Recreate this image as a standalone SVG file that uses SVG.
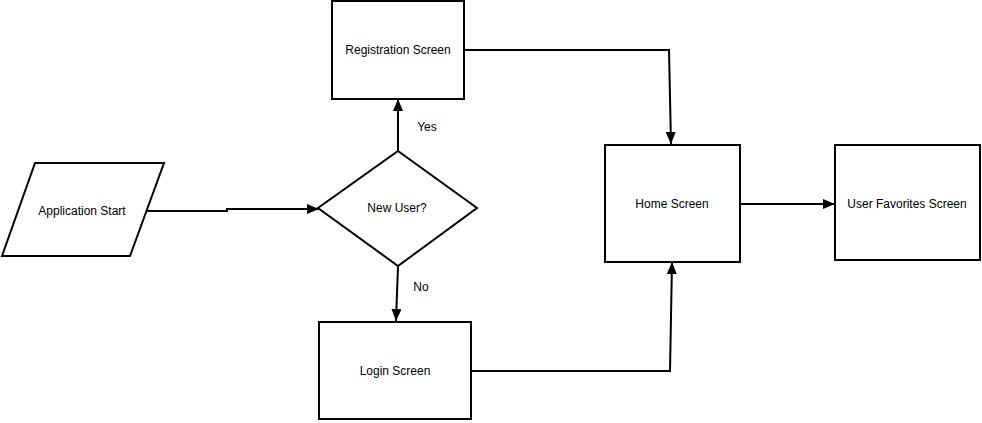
<svg xmlns="http://www.w3.org/2000/svg" width="982" height="423" viewBox="0 0 982 423">
<style>
.shape{fill:#fff;stroke:#000;stroke-width:2}
.edge{fill:none;stroke:#000;stroke-width:2}
text{font-family:"Liberation Sans",Arial,sans-serif;font-size:12px;fill:#000;text-anchor:middle;dominant-baseline:central}
</style>
<defs>
<marker id="arr" markerWidth="12" markerHeight="10" refX="12" refY="5" orient="auto" markerUnits="userSpaceOnUse">
<path d="M0,0 L12,5 L0,10 Z" fill="#000"/>
</marker>
</defs>
<rect width="982" height="423" fill="#fff"/>
<g id="connectors">
<polyline class="edge" points="147,211 227,211 227,209 319,209" marker-end="url(#arr)"/>
<line class="edge" x1="398" y1="151" x2="398" y2="99" marker-end="url(#arr)"/>
<line class="edge" x1="398" y1="266" x2="396" y2="321" marker-end="url(#arr)"/>
<polyline class="edge" points="464,50 669,50 671,144" marker-end="url(#arr)"/>
<polyline class="edge" points="472,371 670,371 672,262" marker-end="url(#arr)"/>
<line class="edge" x1="740" y1="204" x2="835" y2="204" marker-end="url(#arr)"/>
<text x="427" y="127">Yes</text>
<text x="421" y="287">No</text>
</g>
<g id="start">
<polygon class="shape" points="35,163 164,163 130,256 2,256"/>
<text x="82" y="211">Application Start</text>
</g>
<g id="decision">
<polygon class="shape" points="398,151 477,208 398,266 318,208"/>
<text x="397" y="208">New User?</text>
</g>
<g id="registration">
<rect class="shape" x="332" y="1" width="132" height="98"/>
<text x="398" y="50">Registration Screen</text>
</g>
<g id="login">
<rect class="shape" x="319" y="322" width="152" height="97"/>
<text x="395" y="371">Login Screen</text>
</g>
<g id="home">
<rect class="shape" x="605" y="145" width="135" height="117"/>
<text x="672" y="204">Home Screen</text>
</g>
<g id="favorites">
<rect class="shape" x="835" y="145" width="145" height="115"/>
<text x="907" y="204">User Favorites Screen</text>
</g>
</svg>
